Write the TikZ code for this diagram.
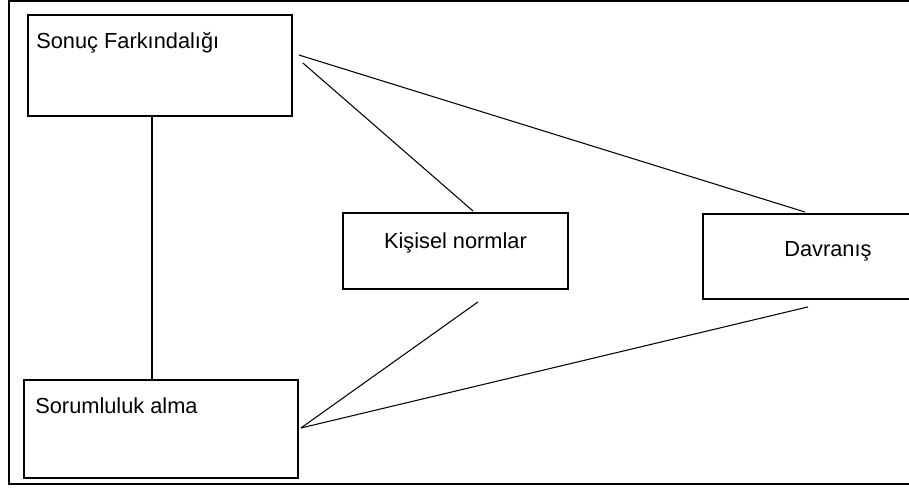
\documentclass[tikz,border=0pt]{standalone}
\usepackage{fontspec}
\setmainfont{Liberation Sans}
\usetikzlibrary{positioning,calc}

\tikzset{
  kutu/.style={draw,line width=1.1pt,inner sep=0pt,anchor=north west},
  yazi/.style={inner sep=0pt,font=\fontsize{12.4}{15}\selectfont},
  bag/.style={line width=0.6pt},
}

\begin{document}
\begin{tikzpicture}[x=0.02cm,y=-0.02cm]
  \useasboundingbox (0,0) rectangle (909,487);
  \clip (0,0) rectangle (909,487);
  % outer frame
  \draw[line width=1.2pt] (9,1) rectangle (1000,484);
  % boxes
  \node[kutu,minimum width=5.28cm,minimum height=2.02cm] (sf) at (27,14) {};
  \node[kutu,minimum width=5.48cm,minimum height=1.96cm] (sa) at (23,379) {};
  \node[kutu,minimum width=4.5cm,minimum height=1.52cm] (kn) at (342,212) {};
  \node[kutu,minimum width=5.96cm,minimum height=1.7cm] (dv) at (702,213) {};
  % texts
  \node[yazi,anchor=base west] (sft) at ($(sf.north west)+(9,34)$) {Sonuç Farkındalığı};
  \node[yazi,anchor=base west] (sat) at ($(sa.north west)+(12,34)$) {Sorumluluk alma};
  \node[yazi,anchor=base] (knt) at ($(kn.north)+(0,36)$) {Kişisel normlar};
  \node[yazi,anchor=base west] (dvt) at ($(dv.north west)+(82,43)$) {Davranış};
  % connectors
  \draw[line width=1.1pt] ($(sf.south west)+(125,0)$) -- ($(sa.north west)+(129,0)$);
  \draw[bag] ($(sf.north east)+(6,41)$) -- ($(dv.north west)+(103,-1)$);
  \draw[bag] ($(sf.north east)+(10,49)$) -- ($(kn.north west)+(131,-1)$);
  \draw[bag] ($(kn.south west)+(136,12)$) -- ($(sa.north east)+(2,49)$);
  \draw[bag] ($(dv.south west)+(106,7)$) -- ($(sa.north east)+(2,49)$);
\end{tikzpicture}
\end{document}
